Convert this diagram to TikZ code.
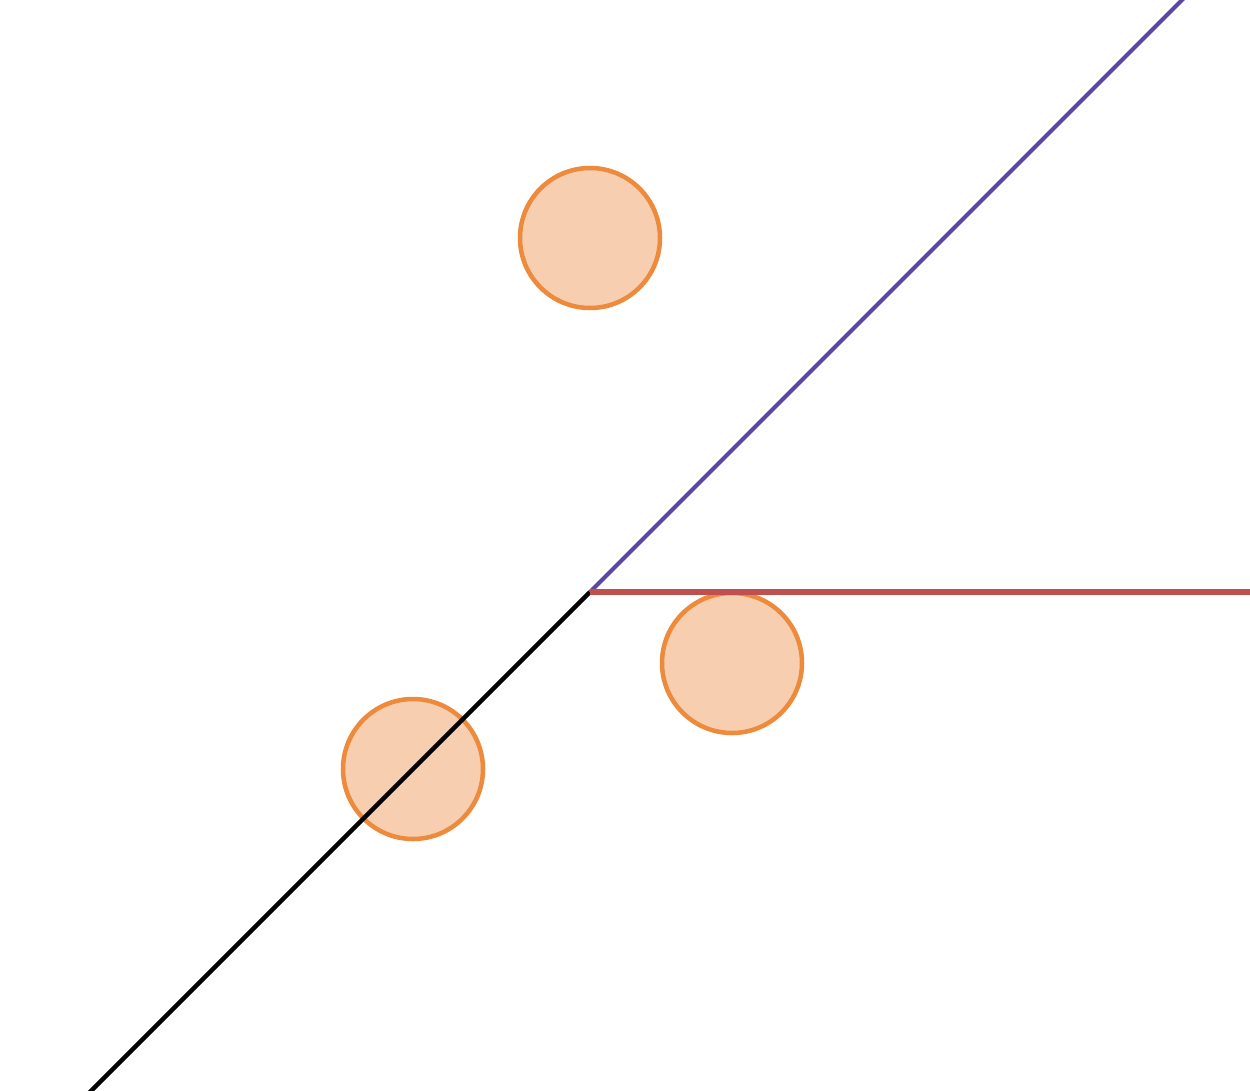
\documentclass[tikz,border=0pt]{standalone}
\definecolor{ball}{HTML}{ED8A3B}
\definecolor{ballfill}{HTML}{F7CEAF}
\definecolor{lpurple}{HTML}{5B48A6}
\definecolor{lred}{HTML}{C0504D}
\begin{document}
\begin{tikzpicture}[x=1pt,y=-1pt,
  ballnode/.style={circle,draw=ball,fill=ballfill,line width=4.5pt,minimum size=140pt,inner sep=0pt}]
\useasboundingbox (0,0) rectangle (1250,1090);
\clip (0,0) rectangle (1250,1090);
\node[ballnode] (b1) at (590,238) {};
\node[ballnode] (b2) at (732,663) {};
\node[ballnode] (b3) at (413,769) {};
\coordinate (o) at (590,592);
\coordinate (lo) at (88,1094);
\coordinate (hi) at (1186,-4);
\coordinate (re) at (1254,592);
\draw[black,line width=4.5pt] (lo) -- (o);
\draw[lpurple,line width=4pt] (o) -- (hi);
\draw[lred,line width=5.5pt] (o) -- (re);
\end{tikzpicture}
\end{document}
